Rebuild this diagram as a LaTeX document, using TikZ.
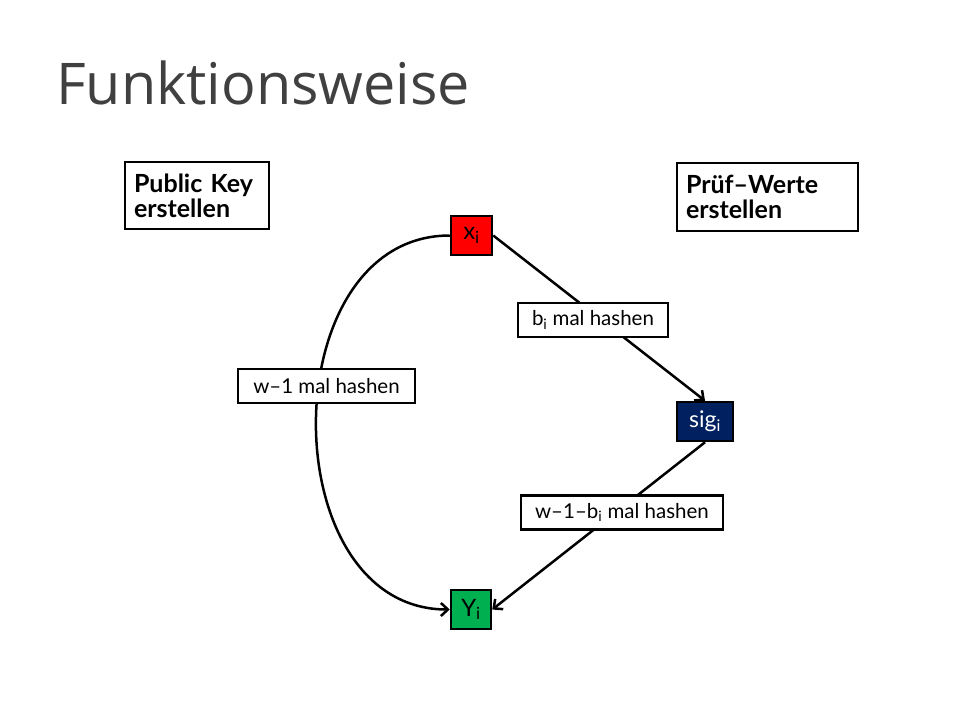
\documentclass[tikz,border=0pt]{standalone}
\usepackage{fontspec}
\setmainfont{Lato}
\newfontfamily\titlefont{Open Sans}
\usepackage{xcolor}
\usetikzlibrary{arrows.meta}

\definecolor{xred}{HTML}{FF0000}
\definecolor{signavy}{HTML}{002060}
\definecolor{ygreen}{HTML}{00B050}
\definecolor{titlegray}{HTML}{404040}

\tikzset{
	infobox/.style={draw, line width=2.5pt, fill=white, align=left, inner xsep=9pt,
		font=\bfseries\fontsize{25}{25}\selectfont},
	hashbox/.style={draw, line width=2.5pt, fill=white, inner sep=0pt, minimum height=34pt,
		font=\fontsize{20.5}{22}\selectfont},
	valbox/.style={draw, line width=2.5pt, inner sep=0pt, minimum height=39pt,
		font=\fontsize{24}{26}\selectfont},
	hasharrow/.style={line width=2.5pt, -{Straight Barb[length=7pt,width=13pt]}}
}

\begin{document}
\begin{tikzpicture}[x=1pt,y=-1pt]
	\useasboundingbox[fill=white] (0,0) rectangle (960,720);

	% Titel
	\node[anchor=base west, inner sep=0pt, text=titlegray, font=\titlefont\fontsize{57.5}{60}\selectfont]
		(title) at (56,104) {Funktionsweise};

	% Beschreibungen
	\node[infobox, text width=126pt, minimum height=67pt] (pubkey) at (197,195.5) {Public Key\\erstellen};
	\node[infobox, text width=163pt, minimum height=68pt] (pruef) at (767.5,197) {Prüf--Werte\\erstellen};

	% Werte
	\node[valbox, fill=xred, minimum width=41pt] (x) at (471.5,235.5) {x\textsubscript{i}};
	\node[valbox, fill=signavy, text=white, minimum width=56pt, font=\fontsize{23}{24}\selectfont]
		(sig) at (705,421.5) {sig\textsubscript{i}};
	\node[valbox, fill=ygreen, minimum width=40pt] (y) at (471,609.5) {Y\textsubscript{i}};

	% Hash-Ketten
	\draw[hasharrow] (x.east) -- (sig.north);
	\draw[hasharrow] (sig.south) -- (y.east);
	\draw[hasharrow] (x.west) to[out=180, in=180, looseness=1.22] (y.west);

	\node[hashbox, minimum width=150pt] (bmal) at (593,320) {b\textsubscript{i} mal hashen};
	\node[hashbox, minimum width=202pt] (restmal) at (622,512.5) {w--1--b\textsubscript{i} mal hashen};
	\node[hashbox, minimum width=177pt] (wmal) at (326.5,386) {w--1 mal hashen};
\end{tikzpicture}
\end{document}
